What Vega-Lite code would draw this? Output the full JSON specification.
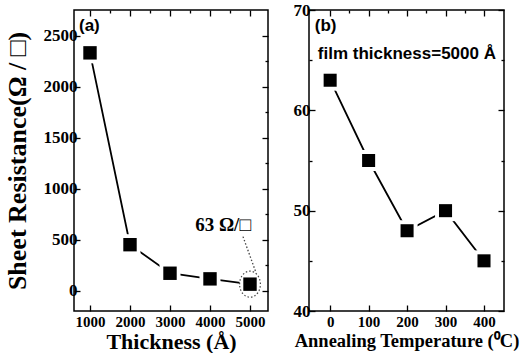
{
  "$schema": "https://vega.github.io/schema/vega-lite/v6.json",
  "background": "white",
  "padding": {"left": 3, "top": 0, "right": 0, "bottom": 0},
  "spacing": 22,
  "datasets": {
    "a": [
      {"x": 1000, "y": 2330},
      {"x": 2000, "y": 450},
      {"x": 3000, "y": 170},
      {"x": 4000, "y": 115},
      {"x": 5000, "y": 63}
    ],
    "b": [
      {"x": 0, "y": 63},
      {"x": 100, "y": 55},
      {"x": 200, "y": 48},
      {"x": 300, "y": 50},
      {"x": 400, "y": 45}
    ],
    "aLabels": [
      {"x": 725, "y": 2593, "label": "(a)"}
    ],
    "aNote": [
      {"x": 4325, "y": 640, "label": "63 Ω/□"}
    ],
    "aRule": [
      {"x": 4825, "y": 529, "x2": 5150, "y2": 176}
    ],
    "aEllipse": [
      {"x": 5000, "y": 63}
    ],
    "bLabels": [
      {"x": -40, "y": 68.4, "label": "(b)"}
    ],
    "bNote": [
      {"x": -32, "y": 65.6, "label": "film thickness=5000 Å"}
    ]
  },
  "config": {
    "view": {"stroke": "black", "strokeWidth": 1.5},
    "axis": {
      "domain": false,
      "grid": false,
      "tickColor": "black",
      "tickWidth": 1.3,
      "labelFont": "Liberation Serif",
      "labelFontWeight": "bold",
      "labelFontSize": 15,
      "labelColor": "black",
      "titleFont": "Liberation Serif",
      "titleFontWeight": "bold",
      "titleColor": "black"
    }
  },
  "hconcat": [
    {
      "width": 194,
      "height": 301,
      "layer": [
        {
          "layer": [
            {
              "data": {"name": "a"},
              "mark": {"type": "line", "color": "black", "strokeWidth": 1.8},
              "encoding": {
                "x": {
                  "field": "x", "type": "quantitative",
                  "scale": {"domain": [600, 5450], "nice": false, "zero": false},
                  "axis": {
                    "title": "Thickness (Å)",
                    "titleFontSize": 22,
                    "titlePadding": 2,
                    "values": [1000, 1500, 2000, 2500, 3000, 3500, 4000, 4500, 5000],
                    "format": "d",
                    "labelFontWeight": "bold",
                    "labelFontSize": 15,
                    "labelExpr": "datum.value % 1000 == 0 ? datum.label : ''",
                    "tickSize": {"condition": {"test": "datum.value % 1000 == 0", "value": -6}, "value": -3},
                    "labelPadding": 9
                  }
                },
                "y": {
                  "field": "y", "type": "quantitative",
                  "scale": {"domain": [-200, 2750], "nice": false, "zero": false},
                  "axis": {
                    "title": "Sheet Resistance(Ω / □)",
                    "titleFontSize": 26,
                    "titlePadding": 2,
                    "minExtent": 42,
                    "maxExtent": 42,
                    "values": [0, 250, 500, 750, 1000, 1250, 1500, 1750, 2000, 2250, 2500],
                    "format": "d",
                    "labelFontWeight": "bold",
                    "labelFontSize": 17,
                    "labelExpr": "datum.value % 500 == 0 ? datum.label : ''",
                    "tickSize": {"condition": {"test": "datum.value % 500 == 0", "value": -6}, "value": -3},
                    "labelPadding": 3
                  }
                }
              }
            },
            {
              "data": {"name": "a"},
              "mark": {"type": "point", "shape": "square", "filled": true, "color": "white", "opacity": 1, "size": 440},
              "encoding": {
                "x": {"field": "x", "type": "quantitative"},
                "y": {"field": "y", "type": "quantitative"}
              }
            },
            {
              "data": {"name": "a"},
              "mark": {"type": "point", "shape": "square", "filled": true, "color": "black", "opacity": 1, "size": 180},
              "encoding": {
                "x": {"field": "x", "type": "quantitative"},
                "y": {"field": "y", "type": "quantitative"}
              }
            },
            {
              "data": {"name": "aEllipse"},
              "mark": {"type": "point", "shape": "M -0.8,0 A 0.8,1 0 1,1 0.8,0 A 0.8,1 0 1,1 -0.8,0 Z", "filled": false, "color": "#444", "strokeWidth": 1.2, "strokeDash": [1.5, 2], "size": 676, "opacity": 1},
              "encoding": {
                "x": {"field": "x", "type": "quantitative"},
                "y": {"field": "y", "type": "quantitative"}
              }
            },
            {
              "data": {"name": "aRule"},
              "mark": {"type": "rule", "color": "#444", "strokeWidth": 1.3, "strokeDash": [1.5, 2]},
              "encoding": {
                "x": {"field": "x", "type": "quantitative"},
                "y": {"field": "y", "type": "quantitative"},
                "x2": {"field": "x2"},
                "y2": {"field": "y2"}
              }
            },
            {
              "data": {"name": "aNote"},
              "mark": {"type": "text", "font": "Liberation Serif", "fontWeight": "bold", "fontSize": 19, "color": "black", "align": "center", "baseline": "middle"},
              "encoding": {
                "x": {"field": "x", "type": "quantitative"},
                "y": {"field": "y", "type": "quantitative"},
                "text": {"field": "label"}
              }
            },
            {
              "data": {"name": "aLabels"},
              "mark": {"type": "text", "font": "Liberation Sans", "fontWeight": "bold", "fontSize": 17, "color": "black", "align": "left", "baseline": "middle"},
              "encoding": {
                "x": {"field": "x", "type": "quantitative"},
                "y": {"field": "y", "type": "quantitative"},
                "text": {"field": "label"}
              }
            }
          ]
        },
        {
          "data": {"name": "a"},
          "mark": {"type": "point", "opacity": 0},
          "encoding": {
            "x": {
              "field": "x", "type": "quantitative",
              "scale": {"domain": [600, 5450], "nice": false, "zero": false},
              "axis": {"orient": "top", "title": null, "labels": false, "minExtent": 0, "maxExtent": 0,
                "values": [1000, 1500, 2000, 2500, 3000, 3500, 4000, 4500, 5000],
                "tickSize": {"condition": {"test": "datum.value % 1000 == 0", "value": -6}, "value": -3}}
            },
            "y": {
              "field": "y", "type": "quantitative",
              "scale": {"domain": [-200, 2750], "nice": false, "zero": false},
              "axis": {"orient": "right", "title": null, "labels": false, "minExtent": 0, "maxExtent": 0,
                "values": [0, 250, 500, 750, 1000, 1250, 1500, 1750, 2000, 2250, 2500],
                "tickSize": {"condition": {"test": "datum.value % 500 == 0", "value": -6}, "value": -3}}
            }
          }
        }
      ],
      "resolve": {"scale": {"x": "independent", "y": "independent"}, "axis": {"x": "independent", "y": "independent"}}
    },
    {
      "width": 195,
      "height": 301,
      "layer": [
        {
          "layer": [
            {
              "data": {"name": "b"},
              "mark": {"type": "line", "color": "black", "strokeWidth": 1.8},
              "encoding": {
                "x": {
                  "field": "x", "type": "quantitative",
                  "scale": {"domain": [-55, 452], "nice": false, "zero": false},
                  "axis": {
                    "title": "Annealing Temperature (⁰C)",
                    "titleFontSize": 18.5,
                    "titlePadding": 2,
                    "values": [0, 50, 100, 150, 200, 250, 300, 350, 400],
                    "format": "d",
                    "labelFontWeight": "bold",
                    "labelFontSize": 15,
                    "labelExpr": "datum.value % 100 == 0 ? datum.label : ''",
                    "tickSize": {"condition": {"test": "datum.value % 100 == 0", "value": -6}, "value": -3},
                    "labelPadding": 9
                  }
                },
                "y": {
                  "field": "y", "type": "quantitative",
                  "scale": {"domain": [40, 70], "nice": false, "zero": false},
                  "axis": {
                    "title": null,
                    "values": [40, 45, 50, 55, 60, 65, 70],
                    "format": "d",
                    "labelFontWeight": "bold",
                    "labelFontSize": 17,
                    "labelExpr": "datum.value % 10 == 0 ? datum.label : ''",
                    "tickSize": {"condition": {"test": "datum.value % 10 == 0", "value": -6}, "value": -3},
                    "labelPadding": 5
                  }
                }
              }
            },
            {
              "data": {"name": "b"},
              "mark": {"type": "point", "shape": "square", "filled": true, "color": "white", "opacity": 1, "size": 440},
              "encoding": {
                "x": {"field": "x", "type": "quantitative"},
                "y": {"field": "y", "type": "quantitative"}
              }
            },
            {
              "data": {"name": "b"},
              "mark": {"type": "point", "shape": "square", "filled": true, "color": "black", "opacity": 1, "size": 170},
              "encoding": {
                "x": {"field": "x", "type": "quantitative"},
                "y": {"field": "y", "type": "quantitative"}
              }
            },
            {
              "data": {"name": "bLabels"},
              "mark": {"type": "text", "font": "Liberation Sans", "fontWeight": "bold", "fontSize": 17, "color": "black", "align": "left", "baseline": "middle"},
              "encoding": {
                "x": {"field": "x", "type": "quantitative"},
                "y": {"field": "y", "type": "quantitative"},
                "text": {"field": "label"}
              }
            },
            {
              "data": {"name": "bNote"},
              "mark": {"type": "text", "font": "Liberation Sans", "fontWeight": "bold", "fontSize": 17, "color": "black", "align": "left", "baseline": "middle"},
              "encoding": {
                "x": {"field": "x", "type": "quantitative"},
                "y": {"field": "y", "type": "quantitative"},
                "text": {"field": "label"}
              }
            }
          ]
        },
        {
          "data": {"name": "b"},
          "mark": {"type": "point", "opacity": 0},
          "encoding": {
            "x": {
              "field": "x", "type": "quantitative",
              "scale": {"domain": [-55, 452], "nice": false, "zero": false},
              "axis": {"orient": "top", "title": null, "labels": false, "minExtent": 0, "maxExtent": 0,
                "values": [0, 50, 100, 150, 200, 250, 300, 350, 400],
                "tickSize": {"condition": {"test": "datum.value % 100 == 0", "value": -6}, "value": -3}}
            },
            "y": {
              "field": "y", "type": "quantitative",
              "scale": {"domain": [40, 70], "nice": false, "zero": false},
              "axis": {"orient": "right", "title": null, "labels": false, "minExtent": 0, "maxExtent": 0,
                "values": [40, 45, 50, 55, 60, 65, 70],
                "tickSize": {"condition": {"test": "datum.value % 10 == 0", "value": -6}, "value": -3}}
            }
          }
        }
      ],
      "resolve": {"scale": {"x": "independent", "y": "independent"}, "axis": {"x": "independent", "y": "independent"}}
    }
  ]
}
